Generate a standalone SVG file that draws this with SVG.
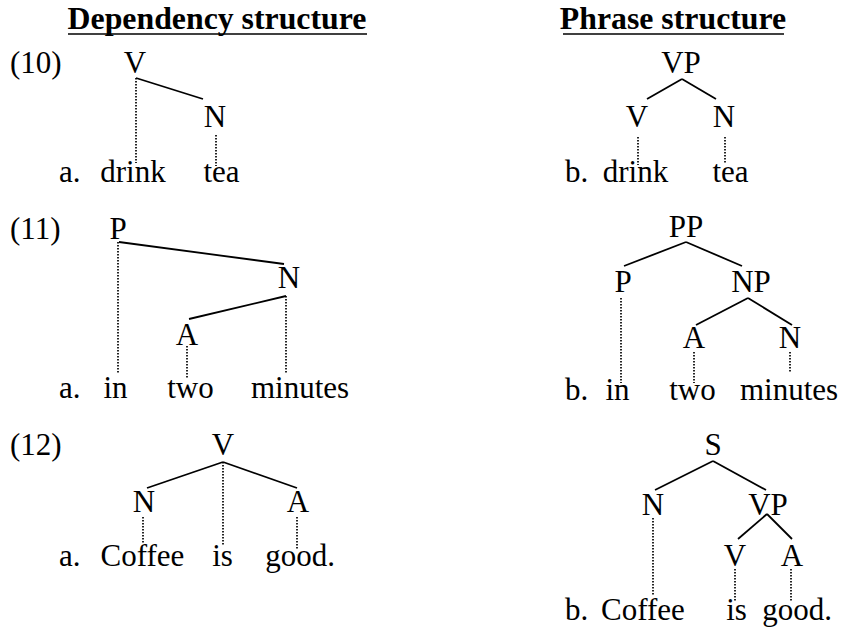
<svg xmlns="http://www.w3.org/2000/svg" width="843" height="628" viewBox="0 0 843 628">
<style>
text{font-family:"Liberation Serif","DejaVu Serif",serif;font-size:31px;fill:#000}
.t{font-weight:bold;text-anchor:middle;font-size:31.8px}
.c{text-anchor:middle}
.e{stroke:#000;stroke-width:1.8;fill:none}
.d{stroke:#000;stroke-width:1.7;stroke-dasharray:1.5 1.5;fill:none}
</style>
<rect width="843" height="628" fill="#fff"/>
<g id="titles">
<text class="t" x="217" y="29">Dependency structure</text>
<line x1="68" y1="34" x2="367" y2="34" stroke="#000" stroke-width="1.6"/>
<text class="t" x="673" y="29">Phrase structure</text>
<line x1="563" y1="34" x2="784" y2="34" stroke="#000" stroke-width="1.6"/>
</g>
<g id="connectors">
<!-- 10a -->
<line class="e" x1="136" y1="78" x2="203" y2="99"/>
<line class="d" x1="136" y1="78" x2="136" y2="163"/>
<line class="d" x1="216" y1="135" x2="216" y2="166"/>
<!-- 10b -->
<line class="e" x1="682" y1="79" x2="647" y2="99"/>
<line class="e" x1="682" y1="79" x2="716" y2="99"/>
<line class="d" x1="638" y1="137" x2="638" y2="165"/>
<line class="d" x1="725" y1="137" x2="725" y2="163"/>
<!-- 11a -->
<line class="e" x1="119" y1="242" x2="284" y2="264"/>
<line class="e" x1="286" y1="296" x2="189" y2="319"/>
<line class="d" x1="118" y1="242" x2="118" y2="373"/>
<line class="d" x1="286" y1="296" x2="286" y2="373"/>
<line class="d" x1="187" y1="346" x2="187" y2="378"/>
<!-- 11b -->
<line class="e" x1="686" y1="242" x2="624" y2="266"/>
<line class="e" x1="686" y1="242" x2="742" y2="266"/>
<line class="e" x1="748" y1="298" x2="696" y2="325"/>
<line class="e" x1="748" y1="298" x2="792" y2="325"/>
<line class="d" x1="621" y1="298" x2="621" y2="383"/>
<line class="d" x1="694" y1="352" x2="694" y2="383"/>
<line class="d" x1="790" y1="352" x2="790" y2="373"/>
<!-- 12a -->
<line class="e" x1="223" y1="462" x2="147" y2="488"/>
<line class="e" x1="223" y1="462" x2="297" y2="488"/>
<line class="d" x1="223" y1="462" x2="223" y2="545"/>
<line class="d" x1="143" y1="517" x2="143" y2="543"/>
<line class="d" x1="297" y1="517" x2="297" y2="549"/>
<!-- 12b -->
<line class="e" x1="713" y1="461" x2="655" y2="490"/>
<line class="e" x1="713" y1="461" x2="766" y2="490"/>
<line class="e" x1="767" y1="514" x2="738" y2="539"/>
<line class="e" x1="767" y1="514" x2="792" y2="539"/>
<line class="d" x1="653" y1="518" x2="653" y2="595"/>
<line class="d" x1="735" y1="569" x2="735" y2="602"/>
<line class="d" x1="791" y1="569" x2="791" y2="602"/>
</g>
<g id="ex10a">
<text x="10" y="73">(10)</text>
<text class="c" x="135" y="73">V</text>
<text class="c" x="215" y="127">N</text>
<text x="59" y="182">a.</text>
<text class="c" x="133" y="182">drink</text>
<text class="c" x="221.5" y="182">tea</text>
</g>
<g id="ex10b">
<text class="c" x="681" y="73">VP</text>
<text class="c" x="637" y="127">V</text>
<text class="c" x="724" y="127">N</text>
<text x="565" y="182">b.</text>
<text class="c" x="635.5" y="182">drink</text>
<text class="c" x="730.5" y="182">tea</text>
</g>
<g id="ex11a">
<text x="10" y="239">(11)</text>
<text class="c" x="118" y="239">P</text>
<text class="c" x="289" y="288">N</text>
<text class="c" x="187" y="345">A</text>
<text x="59" y="398">a.</text>
<text class="c" x="115.5" y="398">in</text>
<text class="c" x="190.5" y="398">two</text>
<text class="c" x="300" y="398">minutes</text>
</g>
<g id="ex11b">
<text class="c" x="686" y="237">PP</text>
<text class="c" x="751" y="292">NP</text>
<text class="c" x="623" y="292">P</text>
<text class="c" x="694" y="348">A</text>
<text class="c" x="790" y="348">N</text>
<text x="565" y="400">b.</text>
<text class="c" x="617.5" y="400">in</text>
<text class="c" x="692.5" y="400">two</text>
<text class="c" x="789" y="400">minutes</text>
</g>
<g id="ex12a">
<text x="10" y="455">(12)</text>
<text class="c" x="223" y="455">V</text>
<text class="c" x="144" y="512">N</text>
<text class="c" x="298" y="512">A</text>
<text x="59" y="566">a.</text>
<text class="c" x="142.5" y="566">Coffee</text>
<text class="c" x="222.5" y="566">is</text>
<text class="c" x="300" y="566">good.</text>
</g>
<g id="ex12b">
<text class="c" x="713" y="455">S</text>
<text class="c" x="653" y="515">N</text>
<text class="c" x="768" y="515">VP</text>
<text class="c" x="735" y="566">V</text>
<text class="c" x="792" y="566">A</text>
<text x="565" y="620">b.</text>
<text class="c" x="643" y="620">Coffee</text>
<text class="c" x="736.5" y="620">is</text>
<text class="c" x="797" y="620">good.</text>
</g>
</svg>
